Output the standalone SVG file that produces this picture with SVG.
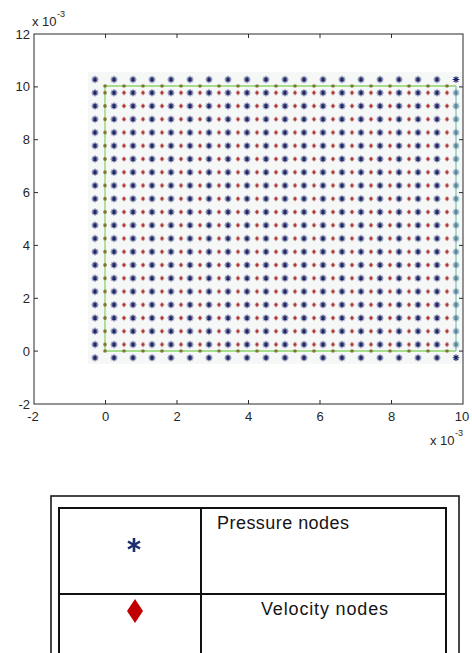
<svg xmlns="http://www.w3.org/2000/svg" xmlns:xlink="http://www.w3.org/1999/xlink" width="472" height="653" viewBox="0 0 472 653">
<style>
.ax{fill:none;stroke:#2b2b2b;stroke-width:1}
.tk{stroke:#2b2b2b;stroke-width:1}
.lbl{font-family:"Liberation Sans",Arial,sans-serif;font-size:13px;fill:#262626}
.ly{text-anchor:end}
.lx{text-anchor:middle}
.sup{font-family:"Liberation Sans",Arial,sans-serif;font-size:9px;fill:#262626}
.bnd{stroke:#8fd46c;stroke-width:1.3;fill:none}
.tb{fill:none;stroke:#111;stroke-width:2}
.leg{font-family:"Liberation Sans",Arial,sans-serif;font-size:18px;fill:#151515}
</style>
<defs>
<path id="ast" d="M-3.3,0H3.3M0,-3.3V3.3M-2.3,-2.3L2.3,2.3M-2.3,2.3L2.3,-2.3" stroke="#1a2266" stroke-width="1.15" fill="none"/>
<path id="astT" d="M-3.3,0H3.3M0,-3.3V3.3M-2.3,-2.3L2.3,2.3M-2.3,2.3L2.3,-2.3" stroke="#54869a" stroke-width="1.15" fill="none"/>
<path id="dia" d="M0,-2.6L2,0L0,2.6L-2,0Z" fill="#a8302f"/>
<pattern id="pAst" patternUnits="userSpaceOnUse" x="85.5" y="72.875" width="19" height="13.25">
<use xlink:href="#ast" x="9.5" y="6.625"/>
</pattern>
<pattern id="pAstT" patternUnits="userSpaceOnUse" x="446.5" y="86.125" width="19" height="13.25">
<use xlink:href="#astT" x="9.5" y="6.625"/>
</pattern>
<pattern id="pDia" patternUnits="userSpaceOnUse" x="114.5" y="86.125" width="19" height="13.25">
<use xlink:href="#dia" x="9.5" y="6.625"/>
</pattern>
<pattern id="pDotTB" patternUnits="userSpaceOnUse" x="95.5" y="82" width="19" height="273">
<circle cx="9.5" cy="4" r="1.8" fill="#7a7630"/>
<circle cx="9.5" cy="269" r="1.8" fill="#7a7630"/>
</pattern>
<pattern id="pDotV" patternUnits="userSpaceOnUse" x="101" y="86.125" width="8" height="13.25">
<circle cx="4" cy="6.625" r="1.8" fill="#7a7630"/>
</pattern>
</defs>
<rect width="472" height="653" fill="#ffffff"/>

<g id="plot">
<rect x="88" y="72" width="375" height="292" fill="#f6f7f7"/>
<g id="boundary">
<path class="bnd" d="M105,86H456M105,86V351M105,351H456"/>
<path d="M456,86V351" stroke="#86c8bc" stroke-width="1.3" fill="none"/>
</g>
<g id="pressure-nodes">
<rect x="85.5" y="72.875" width="361" height="291.5" fill="url(#pAst)"/>
<use xlink:href="#ast" x="456" y="79.5"/>
<use xlink:href="#ast" x="456" y="357.75"/>
<rect x="446.5" y="86.125" width="19" height="265" fill="url(#pAstT)"/>
</g>
<g id="velocity-nodes">
<rect x="114.5" y="86.125" width="342" height="265" fill="url(#pDia)"/>
</g>
<g id="boundary-nodes">
<rect x="95.5" y="82" width="361" height="273" fill="url(#pDotTB)"/>
<rect x="101" y="86.125" width="8" height="265" fill="url(#pDotV)"/>
</g>
</g>

<g id="axes">
<rect class="ax" x="34" y="34" width="429" height="370"/>
<path class="tk" d="M34,86.9h4M34,139.7h4M34,192.6h4M34,245.4h4M34,298.3h4M34,351.1h4M463,86.9h-4M463,139.7h-4M463,192.6h-4M463,245.4h-4M463,298.3h-4M463,351.1h-4M105.5,404v-4M177,404v-4M248.5,404v-4M320,404v-4M391.5,404v-4M105.5,34v4M177,34v4M248.5,34v4M320,34v4M391.5,34v4"/>
<text class="lbl ly" x="30" y="38.5">12</text>
<text class="lbl ly" x="30" y="91.4">10</text>
<text class="lbl ly" x="30" y="144.2">8</text>
<text class="lbl ly" x="30" y="197.1">6</text>
<text class="lbl ly" x="30" y="249.9">4</text>
<text class="lbl ly" x="30" y="302.8">2</text>
<text class="lbl ly" x="30" y="355.6">0</text>
<text class="lbl ly" x="30" y="408.5">-2</text>
<text class="lbl lx" x="33" y="421">-2</text>
<text class="lbl lx" x="105.5" y="421">0</text>
<text class="lbl lx" x="177" y="421">2</text>
<text class="lbl lx" x="248.5" y="421">4</text>
<text class="lbl lx" x="320" y="421">6</text>
<text class="lbl lx" x="391.5" y="421">8</text>
<text class="lbl lx" x="462" y="421">10</text>
<text class="lbl" x="32" y="26" font-size="12">x 10</text>
<text class="sup" x="57" y="17">-3</text>
<text class="lbl" x="430" y="445" font-size="12">x 10</text>
<text class="sup" x="455" y="436">-3</text>
</g>

<g id="legend">
<rect x="51" y="496" width="408" height="200" fill="none" stroke="#1a1a1a" stroke-width="1.6"/>
<rect class="tb" x="59" y="508" width="387" height="200"/>
<path class="tb" d="M59,594H446M201,508V653"/>
<g id="legend-pressure">
<path d="M134,538V552M128,541.5L140,548.5M128,548.5L140,541.5" stroke="#1b2d6e" stroke-width="2.6" fill="none"/>
<text class="leg" x="217" y="529" textLength="132" lengthAdjust="spacing">Pressure nodes</text>
</g>
<g id="legend-velocity">
<path d="M135,599L143,611L135,623L127,611Z" fill="#c00000"/>
<text class="leg" x="261" y="615" textLength="127" lengthAdjust="spacing">Velocity nodes</text>
</g>
</g>
</svg>
